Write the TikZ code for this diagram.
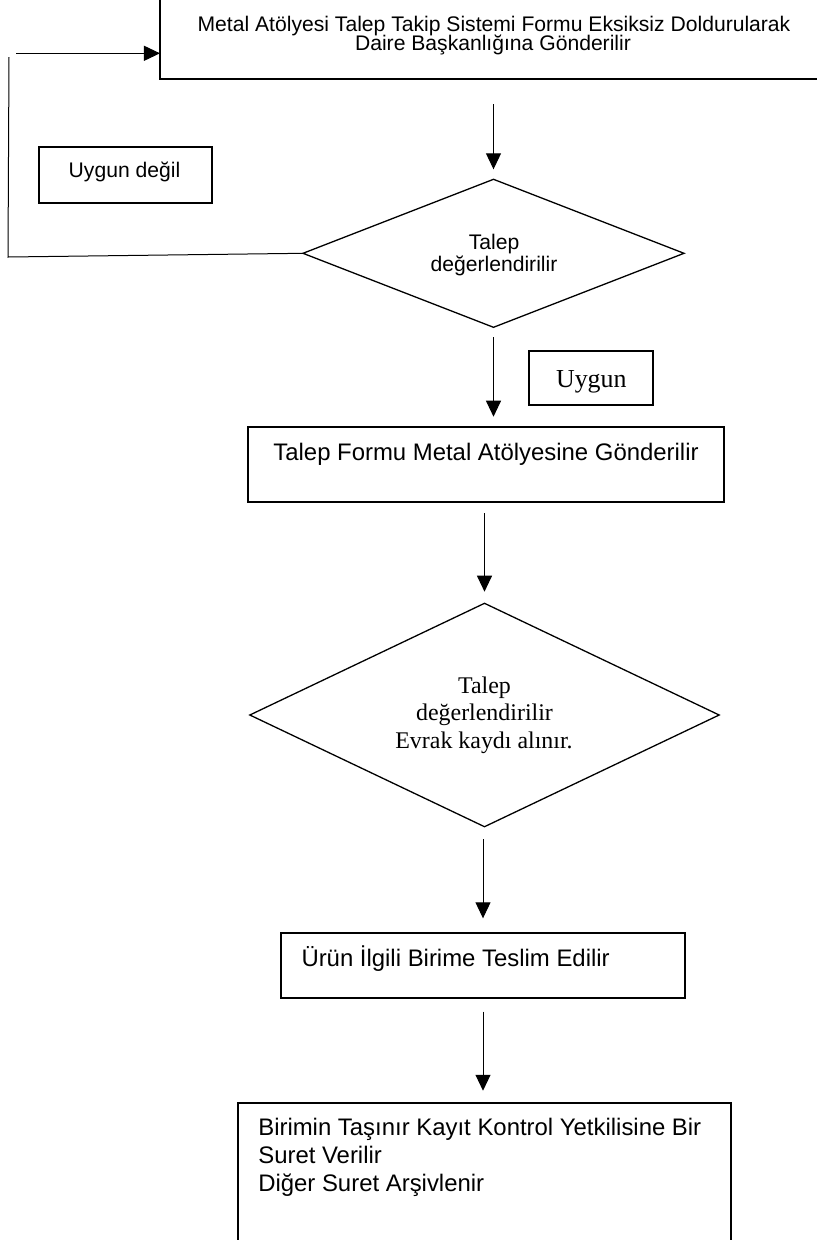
\documentclass[tikz,border=0pt]{standalone}
\usepackage{fontspec}
\setmainfont{Liberation Serif}
\newfontfamily\arialf{Liberation Sans}
\newfontfamily\timesf{Liberation Serif}
\usetikzlibrary{shapes.geometric,arrows.meta}
\begin{document}
\begin{tikzpicture}[x=1bp,y=-1bp,
  every node/.style={inner sep=0pt,outer sep=0pt},
  boxs/.style={draw,rectangle,line width=1.8bp},
  dia/.style={draw,diamond,line width=1.3bp,aspect=1},
  sans/.style={font=\arialf\fontsize{21.2}{21.2}\selectfont},
  sansL/.style={font=\arialf\fontsize{24}{24}\selectfont},
  serifL/.style={font=\timesf\fontsize{24}{24}\selectfont},
  serifXL/.style={font=\timesf\fontsize{26}{26}\selectfont},
  arr/.style={line width=1bp,-{Triangle[length=16bp,width=15bp]}},
  conn/.style={line width=1bp}]
\useasboundingbox[fill=white] (0,0) rectangle (817,1240);

% shapes
\node[boxs,minimum width=662bp,minimum height=79.8bp] (b1) at (491,39.1) {};
\node[boxs,minimum width=173bp,minimum height=56.6bp] (bu1) at (125.8,175) {};
\node[dia,minimum width=381bp,minimum height=148bp] (d1) at (493.5,253.3) {};
\node[boxs,minimum width=124bp,minimum height=54.3bp] (bu2) at (591.3,377.9) {};
\node[boxs,minimum width=475.7bp,minimum height=74.4bp] (b2) at (486.2,464.5) {};
\node[dia,minimum width=469.3bp,minimum height=223.4bp] (d2) at (484.5,715) {};
\node[boxs,minimum width=404bp,minimum height=65bp] (b3) at (483,965.2) {};
\node[boxs,minimum width=492.4bp,minimum height=147.3bp] (b4) at (484.5,1176.4) {};

% texts
\node[sans,anchor=base,text depth=0pt] (t1a) at (494,31.2) {Metal Atölyesi Talep Takip Sistemi Formu Eksiksiz Doldurularak};
\node[sans,anchor=base,text height=14bp] (t1b) at (493,50.3) {Daire Başkanlığına Gönderilir};
\node[sans,anchor=base] (tu1) at (124.5,177) {Uygun değil};
\node[sans,anchor=base,text depth=0pt] (td1a) at (494,249) {Talep};
\node[sans,anchor=base,text height=15bp] (td1b) at (494,271.5) {değerlendirilir};
\node[serifXL,anchor=base] (tu2) at (591.3,387) {Uygun};
\node[sansL,anchor=base] (t2) at (486,460.7) {Talep Formu Metal Atölyesine Gönderilir};
\node[serifL,anchor=base,text depth=0pt] (td2a) at (484.5,693.3) {Talep};
\node[serifL,anchor=base,text height=17bp,text depth=0pt] (td2b) at (484.5,720) {değerlendirilir};
\node[serifL,anchor=base,text height=17bp] (td2c) at (484,748.3) {Evrak kaydı alınır.};
\node[sansL,anchor=base west] (t3) at (301.5,966.7) {Ürün İlgili Birime Teslim Edilir};
\node[sansL,anchor=base west,text depth=0pt] (t4a) at (258.3,1135) {Birimin Taşınır Kayıt Kontrol Yetkilisine Bir};
\node[sansL,anchor=base west,text height=17bp,text depth=0pt] (t4b) at (258.3,1163.3) {Suret Verilir};
\node[sansL,anchor=base west,text height=17bp] (t4c) at (258.3,1191.7) {Diğer Suret Arşivlenir};

% loop back connector
\coordinate (c1) at (8,257);
\coordinate (c2) at (9,57);
\coordinate (c3) at (16,53.3);
\draw[conn] (d1.west) -- (c1) -- (c2);
\draw[arr] (c3) -- (c3 -| b1.west);

% main flow arrows
\draw[arr,shorten <=25bp,shorten >=10bp] (b1.south -| d1.north) -- (d1.north);
\draw[arr,shorten <=9.7bp,shorten >=10.6bp] (d1.south) -- (d1.south |- b2.north);
\draw[arr,shorten <=11.6bp,shorten >=11.6bp] (d2.north |- b2.south) -- (d2.north);
\draw[arr,shorten <=12.6bp,shorten >=14.4bp] (b3.north |- d2.south) -- (b3.north);
\draw[arr,shorten <=14bp,shorten >=12bp] (b3.south) -- (b3.south |- b4.north);
\end{tikzpicture}
\end{document}
